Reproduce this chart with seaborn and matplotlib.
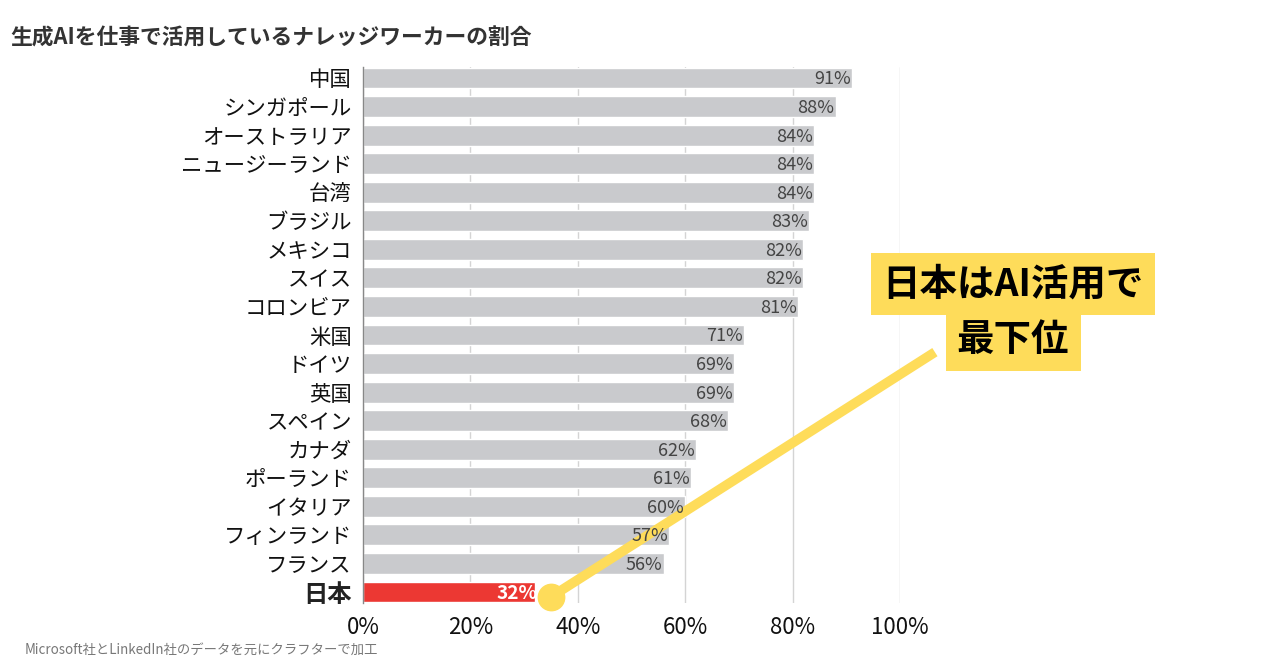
import matplotlib
matplotlib.use('Agg')
import matplotlib.pyplot as plt
import pandas as pd
import seaborn as sns

# データ
countries = ['中国', 'シンガポール', 'オーストラリア', 'ニュージーランド', '台湾', 'ブラジル',
             'メキシコ', 'スイス', 'コロンビア', '米国', 'ドイツ', '英国', 'スペイン',
             'カナダ', 'ポーランド', 'イタリア', 'フィンランド', 'フランス', '日本']
values = [91, 88, 84, 84, 84, 83, 82, 82, 81, 71, 69, 69, 68, 62, 61, 60, 57, 56, 32]
x_ticks = [0, 20, 40, 60, 80, 100]
highlight = '日本'

title = '生成AIを仕事で活用しているナレッジワーカーの割合'
note = 'Microsoft社とLinkedIn社のデータを元にクラフターで加工'
callout = ['日本はAI活用で', '最下位']

sns.set_theme(style='white')
plt.rcParams['font.family'] = ['Noto Sans CJK JP', 'DejaVu Sans']

df = pd.DataFrame({'country': countries, 'value': values})
gray = '#c9cacd'
red = '#ec3833'
yellow = '#fedc5a'
palette = {c: (red if c == highlight else gray) for c in countries}

fig = plt.figure(figsize=(12.8, 6.7), dpi=100)
ax = fig.add_axes([363 / 1280, 1 - 602.6 / 670, (900 - 363) / 1280, (602.6 - 67.4) / 670])

sns.barplot(data=df, x='value', y='country', hue='country', palette=palette,
            legend=False, width=0.73, ax=ax, saturation=1, zorder=2)

ax.set_xlim(0, 100)
n = len(countries)
ax.set_ylim(n - 1 + 0.37, -0.37)
ax.set_xticks(x_ticks)
ax.set_xticklabels([f'{t}%' for t in x_ticks], fontsize=16, color='#111111')
ax.xaxis.grid(True, color='#d4d4d4', linewidth=1, zorder=0)
ax.yaxis.grid(False)
ax.set_axisbelow(True)
ax.set_xlabel('')
ax.set_ylabel('')
for s in ['top', 'right', 'bottom']:
    ax.spines[s].set_visible(False)
ax.spines['left'].set_color('#888888')
ax.spines['left'].set_linewidth(1)
ax.tick_params(axis='x', length=0, pad=10)
ax.tick_params(axis='y', length=0, pad=8)

for lbl in ax.get_yticklabels():
    lbl.set_fontsize(15.4)
    lbl.set_color('#111111')
    if lbl.get_text() == highlight:
        lbl.set_fontweight('bold')
        lbl.set_fontsize(17.5)
        lbl.set_color('#222222')

for i, (c, v) in enumerate(zip(countries, values)):
    if c == highlight:
        ax.text(v + 0.5, i + 0.05, f'{v}%', ha='right', va='center', fontsize=13.7,
                color='white', fontweight='bold', zorder=6)
    else:
        ax.text(v - 0.2, i + 0.05, f'{v}%', ha='right', va='center', fontsize=13,
                color='#444444', zorder=6)

# 吹き出し線
ax.plot([106.5, 35.0], [9.6, 18.17], color=yellow, linewidth=7, solid_capstyle='butt',
        clip_on=False, zorder=5)
ax.plot([35.0], [18.17], 'o', color=yellow, markersize=19, clip_on=False, zorder=5)

# 注釈テキスト
fig.text(1013 / 1280, 1 - 284 / 670, callout[0], ha='center', va='center', fontsize=27,
         fontweight='bold', color='black',
         bbox=dict(boxstyle='square,pad=0.3', facecolor=yellow, edgecolor='none'))
fig.text(1013 / 1280, 1 - 340 / 670, callout[1], ha='center', va='center', fontsize=27,
         fontweight='bold', color='black',
         bbox=dict(boxstyle='square,pad=0.3', facecolor=yellow, edgecolor='none'))

fig.text(10 / 1280, 1 - 38 / 670, title, ha='left', va='center', fontsize=15.7,
         fontweight='bold', color='#333333')
fig.text(25 / 1280, 1 - 650 / 670, note, ha='left', va='center', fontsize=9.6,
         color='#777777')

fig.savefig('out.png', dpi=100)
